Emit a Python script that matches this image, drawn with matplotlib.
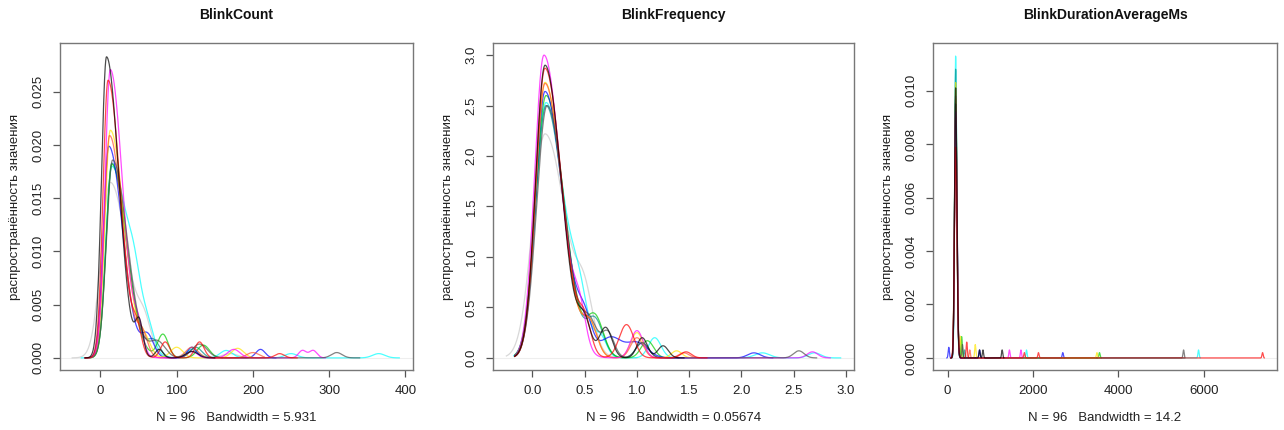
import numpy as np
import matplotlib
matplotlib.use('Agg')
import matplotlib.pyplot as plt

plt.rcParams['font.family'] = ['Liberation Sans', 'DejaVu Sans']

# one colour per curve, same order in every panel (last one drawn on top)
colors = ['#C8C8C8', '#00FFFF', '#008B8B', '#00CD00', '#0000FF', '#FFE600',
          '#FF5030', '#FF00FF', '#4D4D4D', '#FF0000', '#000000']

titles = ['BlinkCount', 'BlinkFrequency', 'BlinkDurationAverageMs']
subs = ['N = 96   Bandwidth = 5.931', 'N = 96   Bandwidth = 0.05674', 'N = 96   Bandwidth = 14.2']
ylab = 'распространённость значения'

# main peak of every curve: (centre, left spread, right spread, height)
count_peaks = [(13, 12, 22, 0.0165), (15, 8, 22, 0.0180), (15, 7.5, 19, 0.0183),
               (15, 7.5, 19, 0.0182), (11, 7, 18, 0.0199), (13, 7, 18, 0.0214),
               (12, 7, 17, 0.0209), (13, 7, 16, 0.0271), (16, 8, 19, 0.0186),
               (10, 6.5, 16, 0.0261), (8, 6.5, 16, 0.0283)]
# secondary bumps: (centre, spread, height)
count_bumps = [[(58, 9, 0.0025), (120, 10, 0.0006), (170, 10, 0.0004)],
               [(45, 8, 0.003), (62, 8, 0.002), (120, 8, 0.0008), (165, 8, 0.0007), (250, 8, 0.0004), (365, 8, 0.0004)],
               [(70, 8, 0.0015), (125, 8, 0.001)],
               [(82, 7, 0.0022), (135, 8, 0.0012)],
               [(62, 8, 0.002), (120, 6, 0.001), (210, 6, 0.0008)],
               [(58, 8, 0.0015), (100, 8, 0.001), (180, 8, 0.0009)],
               [(55, 7, 0.002), (120, 8, 0.001), (200, 8, 0.0005)],
               [(50, 6, 0.0022), (120, 7, 0.0006), (175, 8, 0.0008), (265, 5, 0.0007), (279, 5, 0.0007)],
               [(75, 10, 0.0015), (130, 10, 0.0013), (310, 7, 0.0005)],
               [(48, 6, 0.0022), (85, 6, 0.0015), (130, 6, 0.0015), (235, 6, 0.0004)],
               [(51, 5, 0.003), (77, 5, 0.0008), (120, 8, 0.0006)]]
count_range = [(-37, 200), (-25, 392), (-20, 150), (-20, 160), (-20, 230), (-20, 200),
               (-20, 215), (-20, 295), (-20, 340), (-20, 258), (-20, 150)]

freq_peaks = [(0.12, 0.12, 0.2, 2.22), (0.13, 0.1, 0.17, 2.53), (0.13, 0.1, 0.17, 2.5),
              (0.13, 0.1, 0.17, 2.6), (0.12, 0.09, 0.17, 2.64), (0.12, 0.09, 0.165, 2.73),
              (0.12, 0.09, 0.165, 2.72), (0.11, 0.09, 0.16, 3.0), (0.14, 0.1, 0.165, 2.5),
              (0.12, 0.09, 0.16, 2.87), (0.12, 0.09, 0.155, 2.9)]
freq_bumps = [[(0.5, 0.08, 0.45)],
              [(0.45, 0.08, 0.45), (0.65, 0.06, 0.2), (1.17, 0.06, 0.2), (2.2, 0.07, 0.05), (2.7, 0.06, 0.05)],
              [(0.6, 0.08, 0.35), (1.05, 0.06, 0.15)],
              [(0.6, 0.08, 0.38), (1.1, 0.06, 0.17)],
              [(0.5, 0.07, 0.3), (0.75, 0.1, 0.2), (1.0, 0.1, 0.15), (2.12, 0.06, 0.05)],
              [(0.55, 0.07, 0.3), (1.0, 0.06, 0.25), (1.38, 0.05, 0.07)],
              [(0.55, 0.07, 0.3), (1.0, 0.06, 0.2), (1.45, 0.05, 0.05)],
              [(0.45, 0.06, 0.35), (1.0, 0.06, 0.27), (2.68, 0.05, 0.06)],
              [(0.55, 0.07, 0.3), (0.72, 0.06, 0.25), (1.05, 0.06, 0.15), (2.55, 0.05, 0.07)],
              [(0.5, 0.06, 0.3), (0.9, 0.07, 0.33), (1.47, 0.05, 0.06)],
              [(0.5, 0.06, 0.3), (0.7, 0.06, 0.3), (1.05, 0.05, 0.2), (1.25, 0.05, 0.12)]]
freq_range = [(-0.25, 1.0), (-0.18, 2.95), (-0.17, 1.4), (-0.17, 1.4), (-0.17, 2.3), (-0.17, 1.6),
              (-0.17, 1.6), (-0.17, 2.85), (-0.17, 2.72), (-0.17, 1.67), (-0.17, 1.45)]

dur_peaks = [(190, 28, 35, 0.0090), (190, 22, 28, 0.0113), (190, 23, 28, 0.0108),
             (190, 25, 30, 0.0097), (190, 25, 30, 0.0098), (190, 25, 30, 0.0103),
             (190, 25, 30, 0.0090), (190, 25, 30, 0.0092), (190, 25, 30, 0.0095),
             (190, 28, 32, 0.0079), (190, 25, 30, 0.0101)]
dur_bumps = [[(330, 15, 0.0007)],
             [(1850, 14, 0.0003), (5880, 14, 0.0003)],
             [(400, 14, 0.0003)],
             [(330, 15, 0.0008), (3560, 14, 0.0002)],
             [(30, 14, 0.0004), (750, 14, 0.0003), (2700, 14, 0.0002)],
             [(300, 15, 0.0008), (650, 14, 0.0005), (3500, 14, 0.0002)],
             [(520, 14, 0.0003)],
             [(1450, 14, 0.0003), (1720, 14, 0.0003)],
             [(350, 15, 0.0005), (5530, 14, 0.0003)],
             [(450, 14, 0.0006), (1800, 14, 0.0002), (2130, 14, 0.0002), (7380, 14, 0.0002)],
             [(750, 14, 0.0003), (830, 14, 0.0003), (1280, 14, 0.0003)]]
dur_range = [(80, 600), (80, 5920), (80, 5560), (80, 3600), (-15, 2740), (80, 3540),
             (80, 600), (80, 1760), (80, 5560), (80, 7420), (80, 1320)]


def density(x, peak, bumps):
    mu, sl, sr, h = peak
    s = np.where(x < mu, sl, sr)
    y = h * np.exp(-0.5 * ((x - mu) / s) ** 2)
    for m, sd, hb in bumps:
        y = y + hb * np.exp(-0.5 * ((x - m) / sd) ** 2)
    return y


panels = [
    (count_peaks, count_bumps, count_range, (-53, 410), (-0.00114, 0.0296),
     np.arange(0, 401, 100), np.arange(0, 0.0251, 0.005), '%.0f', '%.3f'),
    (freq_peaks, freq_bumps, freq_range, (-0.378, 3.078), (-0.12, 3.12),
     np.arange(0, 3.01, 0.5), np.arange(0, 3.01, 0.5), '%.1f', '%.1f'),
    (dur_peaks, dur_bumps, dur_range, (-340, 7718), (-0.00045, 0.01178),
     np.arange(0, 6001, 2000), np.arange(0, 0.0101, 0.002), '%.0f', '%.3f'),
]

W, H = 1284, 430
boxes = [(60, 43, 413, 370), (493, 43, 854, 370), (933, 43, 1277, 370)]

fig = plt.figure(figsize=(W / 100, H / 100), dpi=100)

for i, (peaks, bumps, rng, xl, yl, xt, yt, xf, yf) in enumerate(panels):
    l, t, r, b = boxes[i]
    ax = fig.add_axes([l / W, 1 - b / H, (r - l) / W, (b - t) / H])
    ax.axhline(0, color='#EEEEEE', lw=0.8, zorder=1)
    for c, p, bb, (lo, hi) in zip(colors, peaks, bumps, rng):
        x = np.linspace(lo, hi, 1500)
        ax.plot(x, density(x, p, bb), color=c, lw=0.9, alpha=0.7, zorder=2)
    ax.set_xlim(xl)
    ax.set_ylim(yl)
    ax.set_xticks(xt)
    ax.set_yticks(yt)
    ax.set_xticklabels([xf % v for v in xt])
    ax.set_yticklabels([yf % v for v in yt], rotation=90, va='center')
    for sp in ax.spines.values():
        sp.set_color('#777777')
        sp.set_linewidth(1.0)
    ax.tick_params(direction='out', length=5, width=0.9, color='#555555',
                   labelsize=9.5, labelcolor='#222222', pad=6)
    cx = (l + r) / 2
    fig.text(cx / W, 1 - 15 / H, titles[i], ha='center', va='center',
             fontsize=10, fontweight='bold', color='#111111')
    fig.text(cx / W, 1 - 418 / H, subs[i], ha='center', va='center',
             fontsize=9.5, color='#222222')
    fig.text((l - 45) / W, 1 - ((t + b) / 2) / H, ylab, rotation=90,
             ha='center', va='center', fontsize=9.5, color='#222222')

fig.savefig('out.png', dpi=100)
